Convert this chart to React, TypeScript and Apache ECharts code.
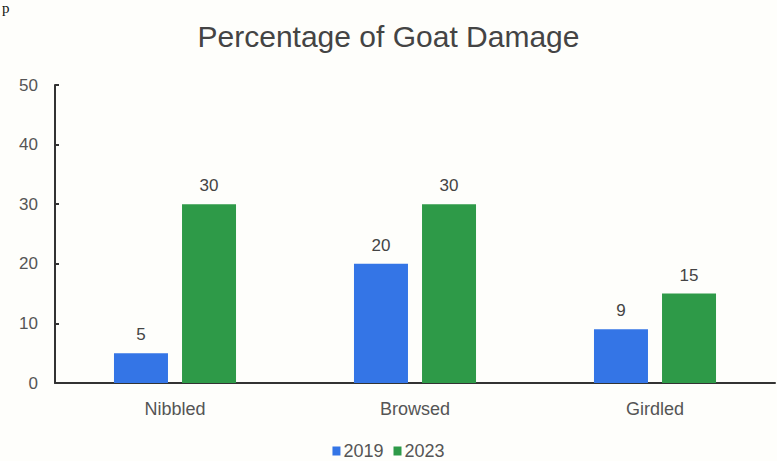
import React, { useEffect, useRef } from "react";
import * as echarts from "echarts";

const categories = ["Nibbled", "Browsed", "Girdled"];
const series2019 = [5, 20, 9];
const series2023 = [30, 30, 15];
const seriesNames = ["2019", "2023"];

export default function App() {
  const ref = useRef<HTMLDivElement>(null);
  useEffect(() => {
    if (!ref.current) return;
    const chart = echarts.init(ref.current, null, { renderer: "svg" });
    const font = "Liberation Sans, Arial, sans-serif";
    const labelStyle = { show: true, position: "top", distance: 10, fontFamily: font, fontSize: 17, color: "#444" };
    chart.setOption({
      animation: false,
      backgroundColor: "#fefefb",
      graphic: [
        {
          type: "text",
          left: 2,
          top: 0,
          style: { text: "p", font: "15px serif", fill: "#111" },
        },
      ],
      title: {
        text: "Percentage of Goat Damage",
        left: "center",
        top: 16,
        textStyle: { fontFamily: font, fontSize: 30, fontWeight: "normal", color: "#444" },
      },
      legend: {
        top: 437,
        left: "center",
        itemWidth: 8,
        itemHeight: 9,
        itemGap: 10,
        icon: "rect",
        textStyle: { fontFamily: font, fontSize: 18, color: "#555", padding: [0, 0, 0, -2] },
        data: seriesNames,
      },
      grid: { left: 55, right: 2, top: 85, bottom: 78 },
      xAxis: {
        type: "category",
        data: categories,
        axisLine: { lineStyle: { color: "#333", width: 2 } },
        axisTick: { show: false },
        axisLabel: { fontFamily: font, fontSize: 18, color: "#555", margin: 17 },
      },
      yAxis: {
        type: "value",
        min: 0,
        max: 50,
        interval: 10,
        splitLine: { show: false },
        axisLine: { show: true, lineStyle: { color: "#333", width: 2 } },
        axisTick: { show: true, inside: true, length: 4, lineStyle: { color: "#333", width: 2 } },
        axisLabel: { fontFamily: font, fontSize: 17, color: "#555", margin: 17 },
      },
      series: [
        {
          name: seriesNames[0],
          type: "bar",
          data: series2019,
          barWidth: 54,
          barGap: "26%",
          itemStyle: { color: "#3475e6" },
          label: labelStyle,
        },
        {
          name: seriesNames[1],
          type: "bar",
          data: series2023,
          barWidth: 54,
          barGap: "26%",
          itemStyle: { color: "#2e9a48" },
          label: labelStyle,
        },
      ],
    });
    return () => chart.dispose();
  }, []);
  return <div ref={ref} style={{ width: 777, height: 461, position: "absolute", left: 0, top: 0 }} />;
}
